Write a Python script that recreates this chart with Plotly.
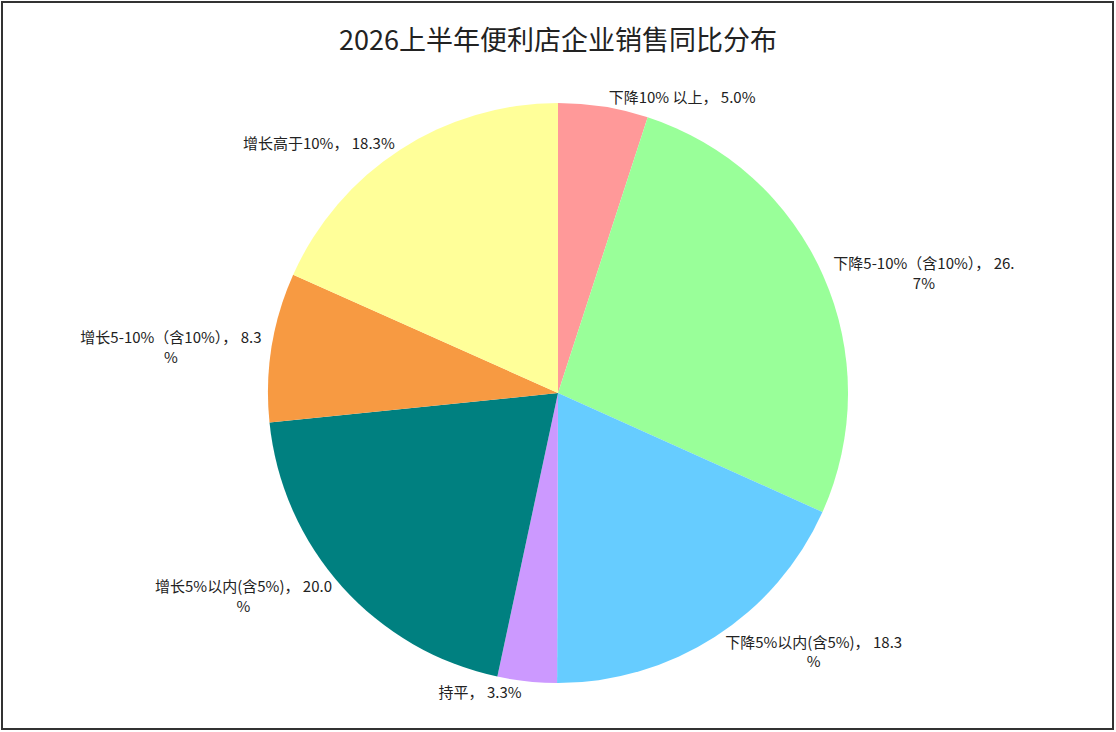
import plotly.graph_objects as go

# slice categories and shares (%), clockwise from 12 o'clock
categories = ['下降10% 以上', '下降5-10%（含10%）', '下降5%以内(含5%)', '持平',
              '增长5%以内(含5%)', '增长5-10%（含10%）', '增长高于10%']
shares = [5.0, 26.7, 18.3, 3.3, 20.0, 8.3, 18.3]
colors = ['#FF9999', '#99FF99', '#66CCFF', '#CC99FF', '#008080', '#F79A42', '#FFFF99']

# label text, wrapped the way the original chart wraps it
labels_text = [
    '下降10% 以上， 5.0%',
    '下降5-10%（含10%）， 26.<br>7%',
    '下降5%以内(含5%)， 18.3<br>%',
    '持平， 3.3%',
    '增长5%以内(含5%)， 20.0<br>%',
    '增长5-10%（含10%）， 8.3<br>%',
    '增长高于10%， 18.3%',
]

W, H = 1116, 732

fig = go.Figure()
fig.add_trace(go.Pie(
    labels=categories,
    values=shares,
    text=labels_text,
    textinfo='text',
    textposition='outside',
    sort=False,
    direction='clockwise',
    rotation=0,
    automargin=False,
    domain=dict(x=[0.1, 0.9], y=[0.0669, 0.8593]),
    marker=dict(colors=colors, line=dict(width=0)),
    outsidetextfont=dict(family='Noto Sans CJK SC', size=15, color='#222222'),
    hoverinfo='label+percent',
    showlegend=False,
))

# empty cartesian trace so the axis lines can act as the outer frame
fig.add_trace(go.Scatter(x=[], y=[], showlegend=False, hoverinfo='skip'))
frame_axis = dict(showline=True, mirror=True, linecolor='#333333', linewidth=1.5,
                  showgrid=False, zeroline=False, showticklabels=False, ticks='',
                  range=[0, 1], fixedrange=True)

fig.update_layout(
    width=W, height=H,
    margin=dict(l=0, r=0, t=0, b=0, autoexpand=False),
    paper_bgcolor='white',
    plot_bgcolor='rgba(0,0,0,0)',
    xaxis=dict(domain=[0.003, 0.996], **frame_axis),
    yaxis=dict(domain=[0.005, 0.996], **frame_axis),
    title=dict(text='2026上半年便利店企业销售同比分布', x=0.5, xanchor='center',
               y=0.945, yanchor='middle',
               font=dict(family='Noto Sans CJK SC', size=27, color='#222222')),
)

# drop the default page margin so the figure sits flush in the window
fig.write_html('out.html', config={'displayModeBar': False},
               post_script="document.body.style.margin='0';")
